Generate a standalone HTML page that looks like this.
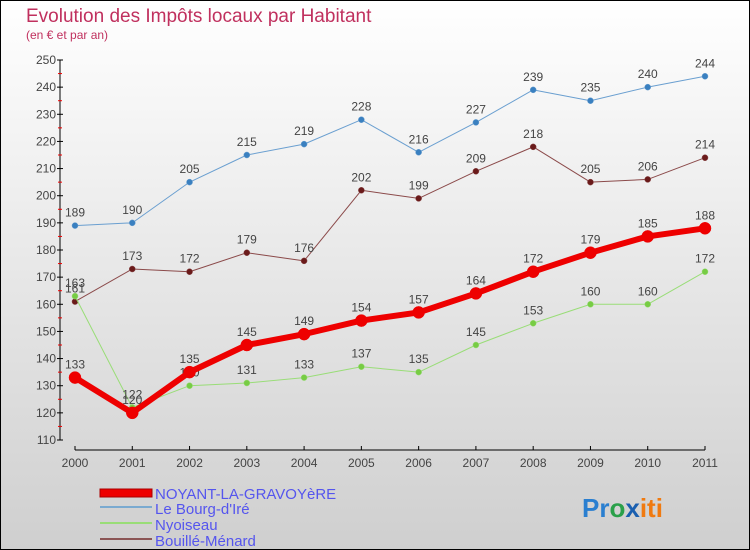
<!DOCTYPE html>
<html><head><meta charset="utf-8"><style>
body{margin:0}
#c{width:750px;height:550px;position:relative;overflow:hidden;font-family:"Liberation Sans",sans-serif}
</style></head><body>
<div id="c">
<svg id="s" width="750" height="550" xmlns="http://www.w3.org/2000/svg">
<defs><linearGradient id="bg" x1="0" y1="0" x2="0" y2="1"><stop offset="0" stop-color="#ffffff"/><stop offset="1" stop-color="#cfcfcf"/></linearGradient></defs>
<rect x="0.5" y="0.5" width="749" height="549" fill="url(#bg)" stroke="#000"/>
<text x="26" y="22" font-size="19" fill="#c0305e">Evolution des Impôts locaux par Habitant</text>
<text x="26" y="39" font-size="12" fill="#c0305e">(en € et par an)</text>
<g id="axes"></g><g id="series"></g>
<g>
<rect x="100" y="489" width="52" height="8" fill="#e00" stroke="#a00"/>
<line x1="100" y1="507" x2="152" y2="507" stroke="#7aaad0" stroke-width="2"/>
<line x1="100" y1="523" x2="152" y2="523" stroke="#99dd77" stroke-width="2"/>
<line x1="100" y1="539" x2="152" y2="539" stroke="#8b5555" stroke-width="2"/>
<g font-size="15" fill="#5555ee">
<text x="155" y="499">NOYANT-LA-GRAVOYèRE</text>
<text x="155" y="514">Le Bourg-d'Iré</text>
<text x="155" y="530">Nyoiseau</text>
<text x="155" y="546">Bouillé-Ménard</text>
</g></g>
<text x="582" y="517" font-size="26" font-weight="bold"><tspan fill="#2a7fd0">Pr</tspan><tspan fill="#2aa04a">o</tspan><tspan fill="#1a5fb0">x</tspan><tspan fill="#f07a10">iti</tspan></text>
</svg></div>
<script>
const years=["2000","2001","2002","2003","2004","2005","2006","2007","2008","2009","2010","2011"];
const yTicks=[110,120,130,140,150,160,170,180,190,200,210,220,230,240,250];
const noyant=[133,120,135,145,149,154,157,164,172,179,185,188];
const bourg=[189,190,205,215,219,228,216,227,239,235,240,244];
const nyoiseau=[163,122,130,131,133,137,135,145,153,160,160,172];
const bouille=[161,173,172,179,176,202,199,209,218,205,206,214];
const NS="http://www.w3.org/2000/svg";
const X=i=>75+i*(630/11);
const Y=v=>440-(v-110)*(380/140);
function mk(t,a,p){const e=document.createElementNS(NS,t);for(const k in a)e.setAttribute(k,a[k]);p.appendChild(e);return e;}
const ax=document.getElementById('axes');
let yl=mk('line',{x1:60,y1:Y(250),x2:60,y2:Y(110),stroke:'#000'},ax);


yTicks.forEach(v=>{
 mk('line',{x1:57,y1:Y(v),x2:63,y2:Y(v),stroke:'#000'},ax);
 if(v<250)mk('line',{x1:58,y1:Y(v+5),x2:62,y2:Y(v+5),stroke:'#e00'},ax);
 const t=mk('text',{x:56,y:Y(v)+4,'font-size':12,'text-anchor':'end',fill:'#444'},ax);t.textContent=v;
 
 
});
let xl=mk('line',{x1:X(0),y1:450,x2:X(11),y2:450,stroke:'#000'},ax);


years.forEach((y,i)=>{
 mk('line',{x1:X(i),y1:446,x2:X(i),y2:450,stroke:'#000'},ax);
 const t=mk('text',{x:X(i),y:467,'font-size':12,'text-anchor':'middle',fill:'#444'},ax);t.textContent=y;
 
 
});
const sg=document.getElementById('series');
function draw(vals,col,dot,w,r,name){
 const g=mk('g',{},sg);
 
 
 mk('polyline',{points:vals.map((v,i)=>X(i)+','+Y(v)).join(' '),fill:'none',stroke:col,'stroke-width':w,'stroke-linejoin':'round'},g);
 vals.forEach((v,i)=>{
  const c=mk('circle',{cx:X(i),cy:Y(v),r:r,fill:dot,stroke:col,'stroke-width':0.5},g);
  
  
  const t=mk('text',{x:X(i),y:Y(v)-9,'font-size':12,'text-anchor':'middle',fill:'#444'},g);t.textContent=v;
  
  
 });
}
draw(bourg,'#6a9fd0','#3a80c0',1,3,'series-bourg');
draw(bouille,'#8b4a4a','#6a1a1a',1,3,'series-bouille');
draw(nyoiseau,'#99dd77','#77cc44',1,3,'series-nyoiseau');
draw(noyant,'#ee0000','#ee0000',6,6,'series-noyant');
</script>
</body></html>
